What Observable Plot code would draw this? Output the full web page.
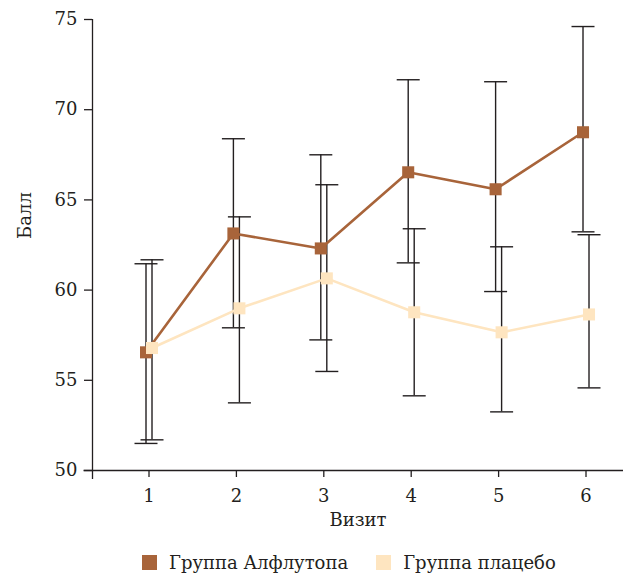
<!DOCTYPE html>
<html><head><meta charset="utf-8">
<script src="https://cdn.jsdelivr.net/npm/d3@7"></script>
<script src="https://cdn.jsdelivr.net/npm/@observablehq/plot@0.6"></script>
<style>
body{margin:0;background:#fff;font-family:"DejaVu Serif",serif;}
#wrap{position:relative;width:626px;height:573px;overflow:hidden;}
#legend{position:absolute;left:142px;top:550px;height:24px;display:flex;align-items:center;font-size:18px;color:#231f20;white-space:nowrap;}
.item{display:flex;align-items:center;}
.sw{width:15px;height:15px;display:inline-block;margin-right:12px;}
</style></head><body><div id="wrap"><div id="chart"></div><div id="legend"></div></div>
<script>
const visits = [1, 2, 3, 4, 5, 6];
const seriesNames = ["Группа Алфлутопа", "Группа плацебо"];
const alfMean = [56.55, 63.14, 62.31, 66.53, 65.59, 68.75];
const alfLow  = [51.50, 57.91, 57.24, 61.51, 59.92, 63.23];
const alfHigh = [61.46, 68.39, 67.50, 71.66, 71.55, 74.61];
const plaMean = [56.79, 58.99, 60.65, 58.77, 57.66, 58.65];
const plaLow  = [51.70, 53.75, 55.49, 54.14, 53.25, 54.58];
const plaHigh = [61.68, 64.06, 65.84, 63.40, 62.40, 63.07];
const yTicks = [50, 55, 60, 65, 70, 75];
const xLabel = "Визит";
const yLabel = "Балл";
const colors = ["#a8643a", "#fee5c0"];
const ink = "#231f20";

const alf = visits.map((v, i) => ({visit: v, mean: alfMean[i], lo: alfLow[i], hi: alfHigh[i]}));
const pla = visits.map((v, i) => ({visit: v, mean: plaMean[i], lo: plaLow[i], hi: plaHigh[i]}));

const capSymbol = {draw(ctx) { ctx.moveTo(-11.5, 0); ctx.lineTo(11.5, 0); }};
const xMin = 0.3535, xMax = 6.429;

function errMarks(data, dx) {
  return [
    Plot.ruleX(data, {x: "visit", y1: "lo", y2: "hi", stroke: ink, strokeWidth: 1.4, dx}),
    Plot.dot(data, {x: "visit", y: "lo", symbol: capSymbol, stroke: ink, strokeWidth: 1.4, fill: "none", dx}),
    Plot.dot(data, {x: "visit", y: "hi", symbol: capSymbol, stroke: ink, strokeWidth: 1.4, fill: "none", dx})
  ];
}

const chart = Plot.plot({
  width: 626, height: 548,
  marginLeft: 92, marginRight: 3, marginTop: 19, marginBottom: 78,
  x: {domain: [xMin, xMax]},
  y: {domain: [50, 75]},
  style: {fontFamily: "DejaVu Serif", fontSize: "18px", color: ink, background: "white", overflow: "visible"},
  marks: [
    Plot.ruleY([50], {insetLeft: -8.5, stroke: ink, strokeWidth: 1.3}),
    Plot.ruleX([xMin], {insetBottom: -9, stroke: ink, strokeWidth: 1.3}),
    Plot.axisY({ticks: yTicks, tickSize: 8, tickPadding: 7, label: null, strokeWidth: 1.3}),
    Plot.axisX({ticks: visits, tickSize: 7, tickPadding: 12, tickFormat: d => String(d), label: null, strokeWidth: 1.3}),
    Plot.text([xLabel], {frameAnchor: "bottom", dy: 55, fill: ink}),
    Plot.text([yLabel], {frameAnchor: "left", rotate: -90, dx: -67, dy: -6, fill: ink}),
    ...errMarks(alf, -3),
    ...errMarks(pla, 3),
    Plot.line(alf, {x: "visit", y: "mean", stroke: colors[0], strokeWidth: 2.6, dx: -3}),
    Plot.line(pla, {x: "visit", y: "mean", stroke: colors[1], strokeWidth: 2.6, dx: 3}),
    Plot.dot(alf, {x: "visit", y: "mean", symbol: "square", r: 6.8, fill: colors[0], dx: -3}),
    Plot.dot(pla, {x: "visit", y: "mean", symbol: "square", r: 6.8, fill: colors[1], dx: 3})
  ]
});
document.getElementById("chart").appendChild(chart);

const legend = document.getElementById("legend");
seriesNames.forEach((name, i) => {
  const it = document.createElement("div");
  it.className = "item";
  if (i > 0) it.style.marginLeft = "28px";
  const sw = document.createElement("span");
  sw.className = "sw";
  sw.style.background = colors[i];
  it.appendChild(sw);
  it.appendChild(document.createTextNode(name));
  legend.appendChild(it);
});
</script></body></html>
